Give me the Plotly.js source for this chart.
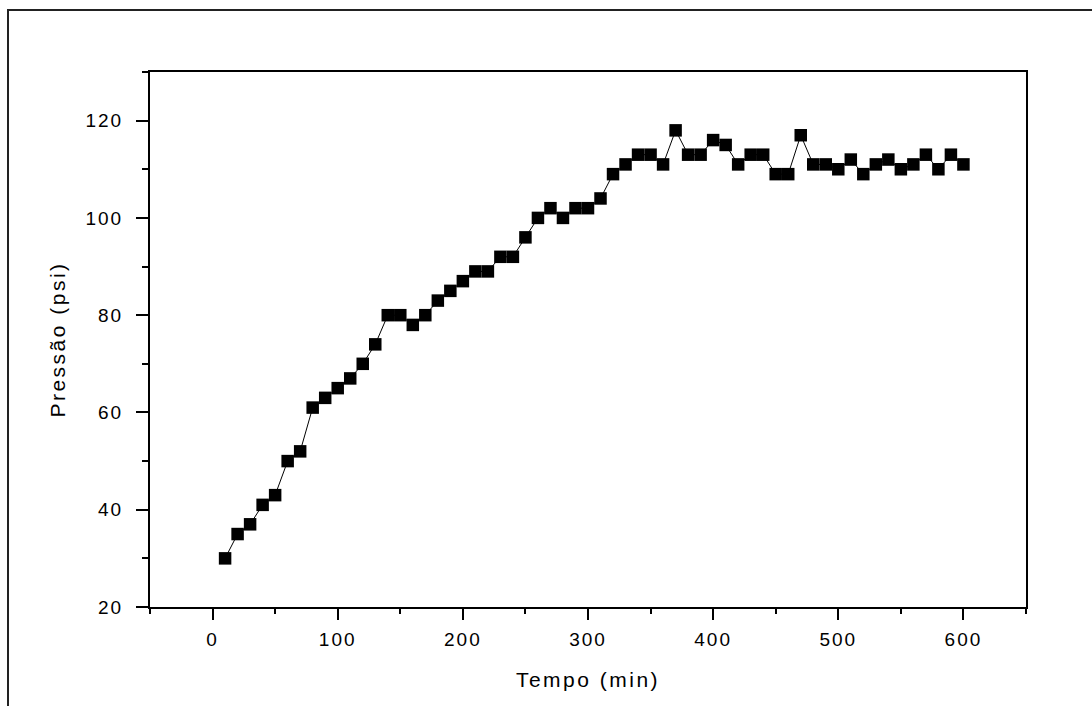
<!DOCTYPE html>
<html>
<head>
<meta charset="utf-8">
<script src="https://cdn.plot.ly/plotly-3.0.1.min.js"></script>
<style>
  html, body { margin: 0; padding: 0; background: #fff; }
  #chart { width: 1092px; height: 706px; }
  .xtick text, .ytick text { letter-spacing: 2px; }
  .g-xtitle text, .g-ytitle text { letter-spacing: 2.5px; }
</style>
</head>
<body>
<div id="chart"></div>
<script>
// Time (min)
const tempo = [10,20,30,40,50,60,70,80,90,100,110,120,130,140,150,160,170,180,190,200,
               210,220,230,240,250,260,270,280,290,300,310,320,330,340,350,360,370,380,390,400,
               410,420,430,440,450,460,470,480,490,500,510,520,530,540,550,560,570,580,590,600];
// Pressure (psi)
const pressao = [30,35,37,41,43,50,52,61,63,65,67,70,74,80,80,78,80,83,85,87,
                 89,89,92,92,96,100,102,100,102,102,104,109,111,113,113,111,118,113,113,116,
                 115,111,113,113,109,109,117,111,111,110,112,109,111,112,110,111,113,110,113,111];
const xTickVals = [0,100,200,300,400,500,600];
const yTickVals = [20,40,60,80,100,120];

const W = 1092, H = 706;
const mL = 150, mT = 72, mR = 66, mB = 99;
const pw = W - mL - mR, ph = H - mT - mB;
const px = v => (v - mL) / pw;
const py = v => (H - mB - v) / ph;

const trace = {
  x: tempo, y: pressao,
  type: 'scatter', mode: 'lines+markers',
  line: {color: '#000', width: 1},
  marker: {symbol: 'square', size: 12.5, color: '#000', line: {width: 0}},
  hoverinfo: 'x+y', showlegend: false
};

const font = {family: '"Liberation Sans", Arial, sans-serif', color: '#000'};

const layout = {
  width: W, height: H,
  margin: {l: mL, r: mR, t: mT, b: mB, pad: 0},
  paper_bgcolor: '#fff', plot_bgcolor: '#fff',
  font: Object.assign({size: 19}, font),
  showlegend: false,
  xaxis: {
    range: [-50, 650], tickvals: xTickVals, ticktext: xTickVals.map(String),
    ticks: 'outside', ticklen: 11, tickwidth: 2, tickcolor: '#000',
    minor: {dtick: 50, tick0: 0, ticks: 'outside', ticklen: 5, tickwidth: 2, tickcolor: '#000'},
    showline: true, linecolor: '#000', linewidth: 2, mirror: true,
    showgrid: false, zeroline: false,
    tickfont: Object.assign({size: 19}, font),
    ticklabelstandoff: 3,
    title: {text: 'Tempo (min)', font: Object.assign({size: 21}, font), standoff: 24}
  },
  yaxis: {
    range: [20, 130], tickvals: yTickVals, ticktext: yTickVals.map(String),
    ticks: 'outside', ticklen: 12, tickwidth: 2, tickcolor: '#000',
    minor: {dtick: 10, tick0: 0, ticks: 'outside', ticklen: 6, tickwidth: 2, tickcolor: '#000'},
    showline: true, linecolor: '#000', linewidth: 2, mirror: true,
    showgrid: false, zeroline: false,
    tickfont: Object.assign({size: 19}, font),
    ticklabelstandoff: 9,
    title: {text: 'Pressão (psi)', font: Object.assign({size: 21}, font), standoff: 14}
  },
  shapes: [{
    type: 'rect', xref: 'paper', yref: 'paper', layer: 'below',
    x0: px(8), x1: px(1110), y0: py(730), y1: py(10),
    line: {color: '#222', width: 2}, fillcolor: 'rgba(0,0,0,0)'
  }]
};

Plotly.newPlot('chart', [trace], layout, {displayModeBar: false, staticPlot: true});
</script>
</body>
</html>
